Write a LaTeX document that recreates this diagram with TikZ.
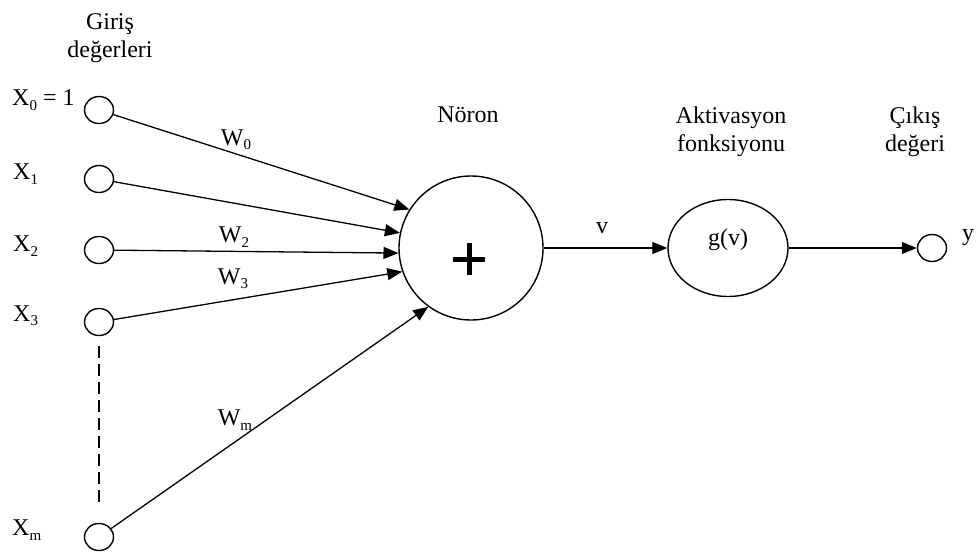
\documentclass[tikz,border=0pt]{standalone}
\usepackage{fontspec}
\setmainfont{Liberation Serif}
\usetikzlibrary{arrows.meta,shapes.geometric}
% lowered, smaller subscript digit/letter
\newcommand\lowsub[1]{\raisebox{-0.4ex}{\fontsize{15}{15}\selectfont #1}}
\begin{document}
\begin{tikzpicture}[x=1pt,y=-1pt,
  every node/.style={font=\fontsize{24}{28}\selectfont},
  inp/.style={draw,ellipse,minimum width=29pt,minimum height=27pt,inner sep=0pt,line width=1.4pt},
  bigunit/.style={draw,line width=1.4pt,inner sep=0pt},
  lbl/.style={inner sep=0pt,align=center},
  link/.style={line width=1.3pt,-{Triangle[length=15pt,width=12pt]}},
]
\useasboundingbox[fill=white] (0,0) rectangle (976,551);

% input units
\node[inp] (x0) at (99,110) {};
\node[inp] (x1) at (99,179) {};
\node[inp] (x2) at (99,250) {};
\node[inp] (x3) at (99,322) {};
\node[inp] (xm) at (99,537) {};

% summing neuron, activation and output
\node[bigunit,circle,minimum size=144pt] (neuron) at (471,248) {};
\node[bigunit,ellipse,minimum width=120pt,minimum height=97pt] (act) at (728,248) {};
\node[inp] (out) at (932,248) {};

% headings
\node[lbl] (tin) at (110,38) {Giriş\\değerleri};
\node[lbl] (tneu) at (468,115) {Nöron};
\node[lbl] (tact) at (731,132) {Aktivasyon\\fonksiyonu};
\node[lbl] (tout) at (915,132) {Çıkış\\değeri};

% input names
\node[lbl,anchor=west] (lx0) at (12,100) {X\lowsub{0} = 1};
\node[lbl,anchor=west] (lx1) at (13,174) {X\lowsub{1}};
\node[lbl,anchor=west] (lx2) at (13,246) {X\lowsub{2}};
\node[lbl,anchor=west] (lx3) at (13,316) {X\lowsub{3}};
\node[lbl,anchor=west] (lxm) at (12,530) {X\lowsub{m}};

% weights
\node[lbl] (w0) at (236,140) {W\lowsub{0}};
\node[lbl] (w2) at (234,237) {W\lowsub{2}};
\node[lbl] (w3) at (233,279) {W\lowsub{3}};
\node[lbl] (wm) at (235,420) {W\lowsub{m}};

% other labels
\node[lbl] (gv) at (728,240) {g(v)};
\node[lbl] (lv) at (602,228) {v};
\node[lbl] (ly) at (968,238) {y};

% weighted connections
\draw[link] (x0) -- (neuron.148);
\draw[link] (x1) -- (neuron.168);
\draw[link] (x2) -- (neuron.184);
\draw[link] (x3) -- (neuron.199);
\draw[link] (xm) -- (neuron.234);
\draw[line width=1.3pt,dash pattern=on 12pt off 6pt,shorten <=10pt,shorten >=18pt] (x3) -- (xm);

% forward path
\draw[link] (neuron) -- (act);
\draw[link] (act) -- (out);

% summation sign
\draw[line width=5pt] ([xshift=-18pt,yshift=-11pt]neuron.center) -- ([xshift=14pt,yshift=-11pt]neuron.center);
\draw[line width=5pt] ([xshift=-2pt,yshift=5pt]neuron.center) -- ([xshift=-2pt,yshift=-27pt]neuron.center);
\end{tikzpicture}
\end{document}
